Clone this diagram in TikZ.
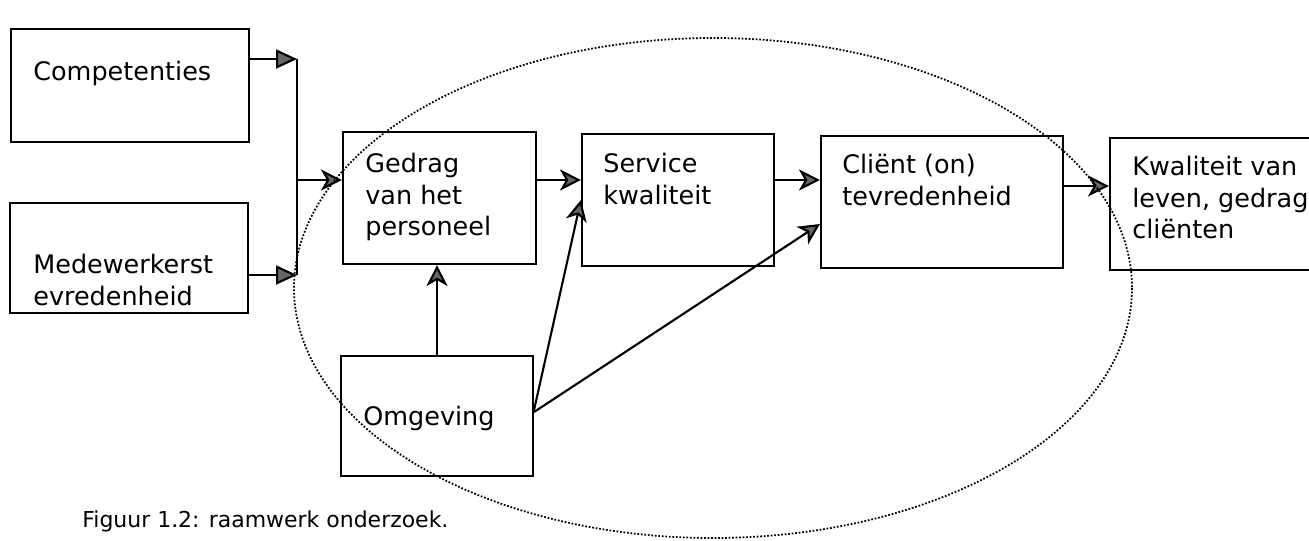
\documentclass[tikz,border=0pt]{standalone}
\usepackage{fontspec}
\setmainfont{DejaVu Sans}
\usepackage{tikz}
\usetikzlibrary{arrows.meta, positioning, fit, calc}

\begin{document}
\begin{tikzpicture}[
  x=0.02cm, y=-0.02cm,
  box/.style={rectangle, draw, line width=1.2pt, inner sep=0pt},
  txt/.style={anchor=north west, inner sep=0pt, align=left,
              font=\fontsize{14.5}{17.9}\selectfont},
  figcap/.style={anchor=base west, inner sep=0pt,
              font=\fontsize{12.5}{15}\selectfont},
  wire/.style={line width=1.2pt},
  arr/.style={-{Stealth[length=0.42cm, width=0.42cm, inset=0.12cm, fill=black!60]}, line width=1.2pt},
  arrL/.style={-{Triangle[length=0.42cm, width=0.38cm, fill=black!60]}, line width=1.2pt},
  ring/.style={line width=1pt, dash pattern=on 1pt off 1pt},
]
  \useasboundingbox (0,0) rectangle (1309,541);

  % boxes
  \node[box, fit={(11,29) (249,142)}] (comp) {};
  \node[box, fit={(10,203) (248,313)}] (mede) {};
  \node[box, fit={(343,132) (536,264)}] (ged) {};
  \node[box, fit={(582,134) (774,266)}] (serv) {};
  \node[box, fit={(821,136) (1063,268)}] (cli) {};
  \node[box, fit={(1110,138) (1330,270)}] (kw) {};
  \node[box, fit={(341,356) (533,476)}] (omg) {};

  % texts
  \node[txt] (comp-t) at (33,61) {Competenties};
  \node[txt] (mede-t) at (33,254) {Medewerkerst\\evredenheid};
  \node[txt] (ged-t) at (365,153) {Gedrag\\van het\\personeel};
  \node[txt] (serv-t) at (603,153) {Service\\kwaliteit};
  \node[txt] (cli-t) at (842,154) {Cliënt (on)\\tevredenheid};
  \node[txt] (kw-t) at (1132,156) {Kwaliteit van\\leven, gedrag\\cliënten};
  \node[txt] (omg-t) at (363,406) {Omgeving};

  % junction
  \coordinate (jtop) at (297,59);
  \coordinate (jbot) at (297,275);
  \coordinate (jmid) at (297,180);
  \coordinate (kline) at (1085,186);

  \draw[arrL] (comp.east |- jtop) -- (jtop);
  \draw[arrL] (mede.east |- jbot) -- (jbot);
  \draw[wire] (jtop) -- (jbot);
  \draw[arr] (jmid) -- (ged.west |- jmid);

  \draw[arr] (ged.east |- jmid) -- (serv.west |- jmid);
  \draw[arr] (serv.east |- jmid) -- (cli.west |- jmid);
  \draw[arr] (cli.east |- kline) -- (kw.west |- kline);

  \draw[arr] (omg.north) -- (omg.north |- ged.south);
  \draw[arr] ([shift={(0,-6)}]omg.east) -- (serv.west);
  \draw[arr] ([shift={(0,-4)}]omg.east) -- ([shift={(0,22)}]cli.west);

  % dotted ellipse
  \draw[ring] (713,288) ellipse [x radius=419, y radius=250];

  \node[figcap] (fig) at (82,527) {Figuur 1.2: raamwerk onderzoek.};
\end{tikzpicture}
\end{document}
